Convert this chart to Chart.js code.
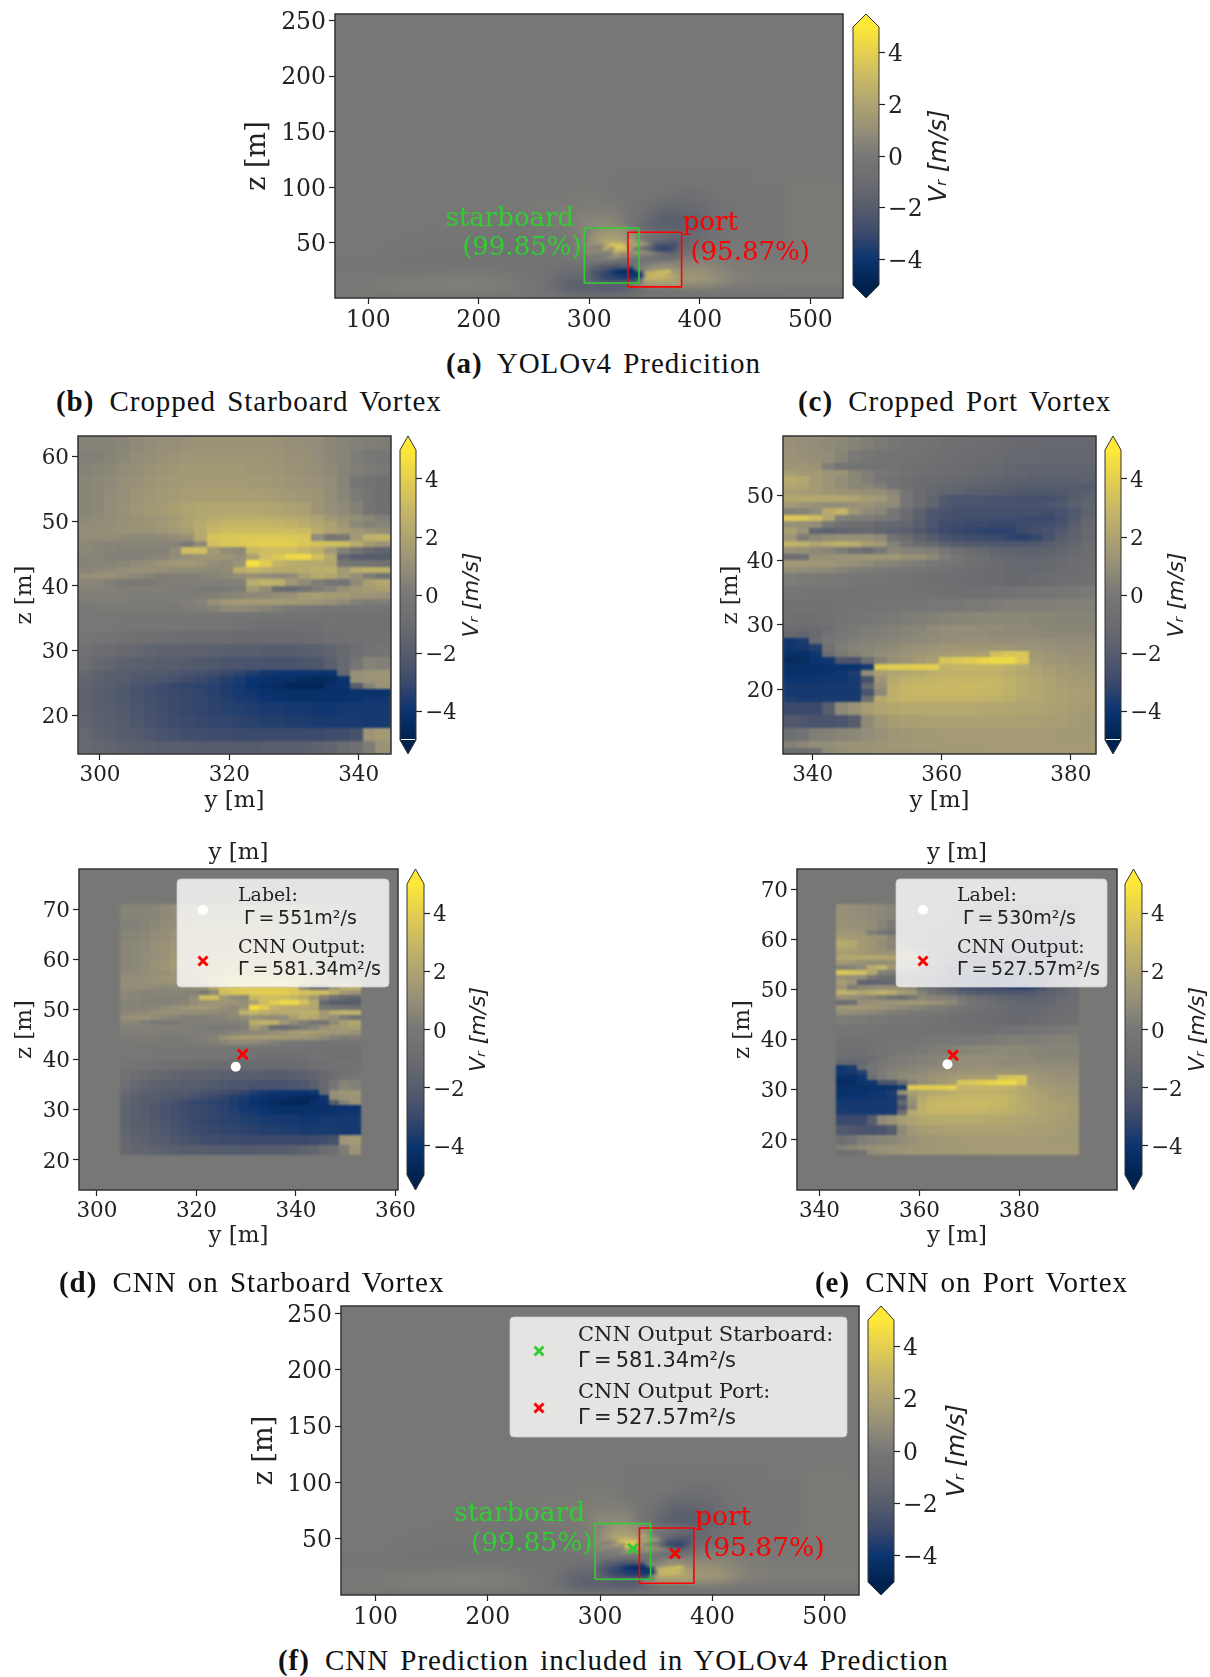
<!DOCTYPE html>
<html>
<head>
<meta charset="utf-8">
<title>Vortex detection figure</title>
<script src="https://cdn.jsdelivr.net/npm/chart.js@4"></script>
<style>
html, body { margin: 0; padding: 0; background: #fff; }
#figure { position: relative; width: 1210px; height: 1677px; overflow: hidden; }
#figure canvas { position: absolute; filter: blur(0.45px); }
.cap { position: absolute; font: 29px/32px "Liberation Serif", serif; letter-spacing: 0.95px; word-spacing: 3px; color: #111; white-space: nowrap; }
.cap b { margin-right: 4px; }
</style>
</head>
<body>
<div id="figure"></div>
<script>
// ---- values (V_r in m/s) ----

// cropped starboard vortex: column edges y, row edges z (top to bottom)
const starY = [296.6,298.6,300.6,302.6,304.6,306.6,308.6,310.6,312.6,314.6,316.6,318.6,320.6,322.6,324.6,326.6,328.6,330.6,332.6,334.6,336.6,338.6,340.6,342.6,345];
const starZ = [64.2,61,59,57,55,53,51,50,49,48,47,46,45,44,43,42,41,40,39,38,37,36,35,33,31,29,27,26,25,24,23,22,20,18,16,14];
const starRows = [
[.5,.5,.5,.6,.8,.9,1,1,1.1,1.2,1.2,1.2,1.2,1.2,1.2,1.1,1,1,.9,.7,.5,.4,.3,.2],
[.4,.4,.5,.7,.9,1,1.1,1.2,1.3,1.3,1.3,1.3,1.3,1.3,1.3,1.2,1.1,1.1,.9,.7,.5,.2,0,-.2],
[.5,.6,.7,.9,1,1.2,1.3,1.4,1.5,1.5,1.5,1.5,1.5,1.4,1.4,1.3,1.2,1.1,1,.8,.5,.3,.1,0],
[.6,.7,.8,1,1.1,1.3,1.4,1.5,1.6,1.6,1.6,1.6,1.6,1.5,1.5,1.4,1.3,1.2,1.1,.9,.5,-.1,-.4,-.6],
[.6,.7,.9,1,1.2,1.4,1.5,1.6,1.7,1.8,1.8,1.8,1.8,1.8,1.7,1.6,1.5,1.4,1.3,.9,.6,.1,-.3,-.7],
[.6,.7,.9,1.1,1.3,1.5,1.6,1.8,2,2.1,2.2,2.2,2.2,2.2,2.1,2,1.9,1.8,1.3,1,.8,.4,-.3,-.6],
[.7,.8,.9,1,1.1,1.3,1.4,1.6,1.9,2.1,2.4,2.5,2.5,2.5,2.5,2.4,2.3,2.2,2,1.4,1.1,.9,.7,.3],
[.9,.9,1,1.1,1.2,1.3,1.5,1.7,2,2.4,2.7,2.9,2.9,2.9,2.9,2.8,2.7,2.5,2.2,1.9,1.4,.7,.4,.6],
[.9,1,1,1.1,1.1,1.2,1.3,1.5,1.8,2.4,3,3.2,3.2,3.2,3.2,3.2,3.2,3.1,2.5,2,1.7,1.4,1.2,.9],
[.9,.9,.9,.8,.7,.7,.8,.9,1.1,2.3,3.5,3.6,3.7,3.7,3.7,3.7,3.7,3.6,.9,-.1,0,1.6,2.6,2.8],
[.7,.6,.5,.5,.5,.6,.5,.5,.1,.8,3.3,3.6,3.7,3.9,4,4,3.9,3.6,3.4,3.3,3.2,2.4,1.6,1.2],
[.7,.6,.5,.4,.4,.4,.4,.9,3.2,3.3,1.5,.9,.7,3,3.2,3.2,3.2,2.9,2.5,1.5,.4,-.5,-1.2,-1.5],
[.5,.5,.4,.4,.4,.5,.6,.9,1.1,1.2,1.3,1.3,1,1.9,3.2,3.8,4.4,4.4,3.4,2.3,-1.3,-2,-2,-2],
[.5,.5,.5,.6,.8,1,1.2,1.4,1.5,1.3,1,.8,1.2,4.7,3.9,2.8,2.4,2.3,2.3,2.1,-.1,-.3,-.5,-.6],
[.6,.7,.8,1,1.1,1.1,1,.9,.9,.8,.7,.8,2.6,2.8,2.5,2.3,2.3,2.4,2.5,2.6,1.5,2.4,2.7,2.6],
[1,1.1,1.1,.9,.7,.5,.3,.3,.3,.4,.5,.7,.9,1.1,.9,.8,.9,1.8,2.4,2.2,1.5,1,.2,-.4],
[.6,.6,.3,.1,.1,.1,.2,.3,.3,.3,.3,.3,.4,2.4,2.8,2.6,1.4,.8,.3,-.2,-.4,.8,1.8,2.2],
[.4,.4,.4,.3,.3,.3,.3,.2,.2,.1,.1,.1,.2,1.6,.9,-1,-1.1,-.5,.2,.5,1.1,1.4,1.6,1.8],
[.3,.3,.3,.3,.2,.2,.2,.2,.2,.2,.3,.5,.6,.7,.8,1,1.1,1.6,1.8,1.6,1.5,1.3,1.3,1.1],
[.2,.2,.2,.2,.1,.1,.1,.2,.3,.5,1.1,1.4,1.6,1.6,1.6,1.6,1.5,1.4,1.3,1.1,.8,.4,.2,.3],
[0,.1,.1,.1,.1,.1,.1,.1,.2,.3,.5,.8,.8,.7,.5,.3,.1,0,-.1,-.2,-.3,-.3,-.3,-.3],
[0,0,0,0,0,0,0,0,0,-.1,-.1,-.1,-.2,-.2,-.3,-.3,-.4,-.4,-.4,-.4,-.5,-.5,-.5,-.5],
[0,0,0,-.1,-.1,-.1,-.1,-.1,-.2,-.2,-.3,-.3,-.4,-.5,-.6,-.6,-.6,-.6,-.6,-.5,-.5,-.6,-.6,-.6],
[-.2,-.3,-.4,-.5,-.6,-.7,-.7,-.8,-.9,-1,-1,-1,-1.1,-1.1,-1.1,-1.1,-1.1,-1,-.9,-.7,-.6,-.5,-.5,-.5],
[-.5,-.8,-1,-1.2,-1.3,-1.5,-1.6,-1.6,-1.7,-1.7,-1.8,-1.9,-1.9,-1.9,-2,-2,-2,-1.9,-1.8,-1.5,-1.2,-.8,-.5,-.3],
[-.8,-1.2,-1.5,-1.7,-1.8,-1.9,-2,-2,-2.1,-2.2,-2.3,-2.4,-2.4,-2.5,-2.5,-2.5,-2.5,-2.4,-2.3,-1.9,-1.2,-.2,.5,.4],
[-1.3,-1.6,-1.9,-2,-2.1,-2.2,-2.2,-2.3,-2.5,-2.6,-2.8,-3,-3.2,-3.5,-3.8,-3.9,-4,-4,-4,-4,-1.3,1,1.2,1.3],
[-1.4,-1.7,-2,-2,-2.2,-2.3,-2.4,-2.6,-2.8,-3,-3.2,-3.5,-3.7,-4,-4.1,-4.2,-4.3,-4.5,-4.6,-4.5,-4.1,1,1.2,1.3],
[-1.5,-1.8,-2,-2.2,-2.4,-2.6,-2.9,-3.1,-3.2,-3.3,-3.4,-3.6,-3.8,-4.1,-4.3,-4.5,-4.7,-4.8,-4.8,-4.2,-4.1,-2,.4,1.2],
[-1.6,-1.9,-2.1,-2.3,-2.5,-2.7,-2.9,-3,-3.1,-3.2,-3.4,-3.6,-3.8,-3.9,-4.1,-4.2,-4.2,-4.2,-4.2,-4.2,-4.2,-4.1,-4.1,-4.1],
[-1.6,-1.9,-2.1,-2.3,-2.5,-2.7,-2.8,-3,-3.1,-3.2,-3.3,-3.5,-3.7,-3.8,-4,-4.1,-4.2,-4.2,-4.2,-4.2,-4.1,-4.1,-3.9,-3.9],
[-1.6,-1.9,-2,-2.2,-2.4,-2.6,-2.8,-3,-3.1,-3.2,-3.3,-3.4,-3.5,-3.6,-3.7,-3.7,-3.8,-3.8,-3.9,-3.9,-3.8,-3.8,-3.8,-3.8],
[-1.5,-1.8,-1.9,-2.1,-2.3,-2.5,-2.7,-2.9,-3,-3.1,-3.2,-3.2,-3.3,-3.4,-3.5,-3.5,-3.6,-3.6,-3.7,-3.7,-3.7,-3.7,-3.8,-3.8],
[-1.3,-1.6,-1.8,-2,-2.1,-2.3,-2.5,-2.6,-2.8,-2.8,-2.9,-2.9,-3,-3,-3,-3,-3,-3,-3,-2.9,-2.8,-2.6,1.3,1.6],
[-1.2,-1.4,-1.5,-1.7,-1.8,-1.9,-2,-2,-2,-2.1,-2.1,-2.1,-2.1,-2.1,-2,-2,-2,-1.9,-1.7,-1.5,-1,-.6,.2,1.2]
];

// cropped port vortex
const portY = [335.4,337.5,339.5,341.5,343.5,345.5,347.5,349.5,351.5,353.5,355.5,357.5,359.5,361.5,363.5,365.5,367.5,369.5,371.5,373.5,375.5,377.5,379.5,381.5,383.9];
const portZ = [60.2,57,55,54,53,52,51,50,49,48,47,46,45,44,43,42,41,40,39,38,36,34,32,30,29,28,27,26,25,24,23,22,21,20,19,18,16,14,12,11,10];
const portRows = [
[1.1,1,.9,.8,.7,.5,.3,.1,-.1,-.3,-.4,-.5,-.6,-.7,-.8,-.9,-1,-1.1,-1.2,-1.2,-1.3,-1.3,-1.3,-1.3],
[1.2,1.1,1,.9,.5,.1,-.1,-.3,-.4,-.5,-.5,-.6,-.7,-.8,-.9,-1,-1.1,-1.2,-1.3,-1.3,-1.4,-1.4,-1.4,-1.4],
[1.3,1.4,1.2,.3,-.3,-.5,-.5,-.5,-.5,-.6,-.7,-.8,-.9,-1,-1.1,-1.2,-1.3,-1.4,-1.5,-1.5,-1.5,-1.5,-1.5,-1.5],
[1.7,1.5,1.5,1.3,1.2,.6,.3,0,-.3,-.5,-.7,-.8,-.9,-1,-1.1,-1.2,-1.3,-1.4,-1.5,-1.6,-1.6,-1.6,-1.6,-1.6],
[2.4,2.2,1.6,1.3,.9,.7,.3,-.2,-.5,-.7,-.9,-1,-1.1,-1.2,-1.3,-1.4,-1.5,-1.6,-1.7,-1.8,-1.8,-1.8,-1.8,-1.7],
[2.2,2,1.6,1.3,1,.6,.6,.3,-.4,-.7,-1,-1.2,-1.3,-1.5,-1.6,-1.7,-1.8,-1.9,-2,-2,-2,-2,-2,-2.1],
[1.7,1.6,1.5,1.3,1.2,1.1,1,1,.6,-.2,-1,-1.3,-1.5,-1.6,-1.8,-1.9,-2,-2.1,-2.2,-2.2,-2.2,-2.2,-2.1,-1.9],
[2.1,2.2,2.2,2.2,2.1,2,1.6,1.4,.9,-.2,-1,-1.5,-2.2,-2.4,-2.4,-2.4,-2.5,-2.5,-2.6,-2.6,-2.6,-2.4,-2,-1.7],
[1.5,1.3,1.1,.9,.9,1.1,1.2,.9,.8,-.2,-1,-1.5,-2.2,-2.5,-2.5,-2.5,-2.5,-2.5,-2.5,-2.5,-2.4,-2.2,-1.8,-1.5],
[.4,.5,.9,2.4,2.8,1.4,.8,.6,-.1,-1,-1.7,-2.3,-2.5,-2.6,-2.6,-2.6,-2.6,-2.6,-2.6,-2.6,-2.7,-2.5,-2.2,-1.6],
[3.7,3.6,3.2,2.2,.4,.2,.2,0,-.2,-1,-1.8,-2.4,-2.6,-2.7,-2.7,-2.7,-2.8,-2.8,-2.9,-3,-3,-2.7,-2.2,-1.4],
[1.1,1,.9,-.1,-.6,-.8,-.9,-1.2,-1.3,-1.5,-2,-2.4,-2.8,-2.9,-3,-3,-3.1,-3.1,-2.9,-2.8,-2.7,-2.5,-1.9,-1.3],
[1.8,1.2,-1.5,-1.7,-1.5,-1.3,-1.2,-1.5,-1.7,-1.8,-2.2,-2.6,-2.9,-3.1,-3.2,-3.3,-3.4,-3.3,-2.9,-2.7,-2.5,-2.2,-1.7,-1.2],
[1.3,.2,.7,.9,1,1,1,.8,-.5,-1,-1.6,-2,-2.5,-2.7,-2.8,-2.9,-3,-3.2,-3.4,-3.1,-2.6,-2,-1.6,-1.2],
[2.7,2.5,2,2.3,2.6,2.4,1.7,1.4,.4,-.4,-1,-1.3,-1.8,-2.1,-2.2,-2.2,-2.3,-2.3,-2.3,-2.2,-2,-1.7,-1.4,-1],
[1.1,1,.8,.6,.2,-.5,-.8,0,.7,.5,.4,.3,-.1,-.6,-1,-1.3,-1.5,-1.6,-1.7,-1.7,-1.6,-1.4,-1.2,-.9],
[-.9,-.7,1,1.1,1.2,1.2,1.4,1.4,1.4,1.1,1,.7,.2,-.2,-.6,-.9,-1.2,-1.3,-1.5,-1.5,-1.4,-1.2,-1,-.8],
[1.4,1.4,1.4,1.3,1.2,1,.8,.6,.5,.3,.2,0,-.2,-.4,-.6,-.8,-1,-1.2,-1.3,-1.3,-1.2,-1.1,-.9,-.8],
[1,.9,.8,.7,.5,.3,.2,.1,0,-.1,-.2,-.4,-.5,-.7,-.8,-1,-1.1,-1.2,-1.3,-1.3,-1.2,-1,-.9,-.7],
[.2,.1,.1,0,0,-.1,-.2,-.2,-.3,-.4,-.5,-.6,-.7,-.8,-.9,-1,-1.1,-1.2,-1.2,-1.1,-1,-.8,-.7,-.6],
[-.2,-.2,-.3,-.3,-.3,-.4,-.4,-.4,-.4,-.5,-.5,-.5,-.6,-.6,-.6,-.6,-.5,-.5,-.4,-.3,-.2,-.1,0,.1],
[-.5,-.5,-.5,-.5,-.4,-.3,-.3,-.2,-.2,-.1,-.1,0,0,0,.1,.1,.2,.3,.3,.3,.3,.4,.4,.4],
[-.6,-.6,-.6,-.5,-.3,-.2,-.1,0,.1,.2,.3,.4,.5,.6,.6,.7,.7,.7,.7,.6,.6,.5,.5,.5],
[-.8,-1,-1,-.8,-.3,.1,.2,.3,.4,.5,.6,.8,.9,1,1,.9,.9,.8,.8,.7,.6,.6,.6,.6],
[-1.3,-1.5,-1.2,-.5,0,.1,.2,.3,.4,.5,.7,.8,.9,.9,.9,.9,.8,.8,.8,.8,.7,.7,.7,.7],
[-3.9,-3.6,-1,-.2,.1,.3,.4,.5,.6,.7,.8,.9,1,1,1.1,1.1,1,1,1,1,1,.9,.9,.9],
[-3.9,-3.8,-3.5,-.5,.2,.5,.6,.7,.8,1,1.1,1.2,1.3,1.3,1.3,1.3,1.3,1.3,1.2,1.2,1.1,1,1,1],
[-4.2,-4.3,-3.9,-.9,.1,.4,.7,.9,1,1.2,1.4,1.5,1.6,1.8,1.8,1.9,3.3,3.6,3.6,1.5,1.3,1.2,1.1,1.1],
[-4.5,-4.4,-4,-3.9,-2.4,-2.4,-.8,.5,1,1.2,1.5,1.8,3.5,3.7,3.9,4.2,4.4,4.4,3.7,1.6,1.4,1.3,1.2,1.2],
[-4.2,-4.2,-4.2,-4.1,-4.1,-4.1,-3.8,3.8,3.9,3.9,4,4,2.8,2.8,2.9,2.9,2.8,2.6,2.3,1.9,1.7,1.5,1.4,1.3],
[-4.2,-4.1,-4.1,-4,-3.9,-3.6,.9,1.8,2,2.2,2.3,2.5,2.6,2.6,2.7,2.7,2.6,2.4,2.2,2,1.8,1.6,1.5,1.4],
[-4,-4,-4,-3.9,-3.9,-3.7,-2.6,1.3,2.3,2.6,2.7,2.8,2.9,2.9,2.9,2.9,2.8,2.6,2.3,2.1,1.9,1.7,1.6,1.5],
[-3.8,-3.8,-3.8,-3.8,-3.8,-3.8,-1.4,1,2.5,2.9,3,3,3,3,3.1,3,2.9,2.6,2.4,2.2,2,1.8,1.7,1.6],
[-3.8,-3.8,-3.8,-3.8,-3.8,-3.8,-2.4,.8,2.6,2.9,3,3,3,3,3,2.9,2.8,2.6,2.4,2.2,2,1.9,1.8,1.7],
[-3.6,-3.7,-3.7,-3.7,-3.7,-3.7,-.8,2.4,2.6,2.8,2.8,2.8,2.8,2.8,2.8,2.7,2.6,2.5,2.3,2.2,2,1.9,1.8,1.7],
[-3,-3,-3,-2,.8,1.2,1.7,2,2.2,2.3,2.3,2.3,2.3,2.3,2.3,2.2,2.2,2.1,2,2,1.9,1.8,1.7,1.6],
[-2.2,-2.3,-2.5,-2.5,-2.4,-2,.8,1.4,1.7,1.8,1.8,1.9,1.9,1.9,1.9,1.9,1.9,1.9,1.8,1.8,1.7,1.7,1.6,1.5],
[-.8,-.4,.3,.4,.6,.7,.9,1.1,1.3,1.4,1.5,1.5,1.6,1.6,1.6,1.6,1.6,1.6,1.6,1.6,1.6,1.5,1.5,1.5],
[.4,.7,.9,1,1.1,1.2,1.2,1.3,1.4,1.4,1.5,1.5,1.5,1.6,1.6,1.6,1.6,1.6,1.6,1.6,1.6,1.6,1.6,1.6],
[-.8,-.8,-.5,.8,1,1.2,1.2,1.3,1.3,1.3,1.4,1.4,1.5,1.5,1.5,1.5,1.6,1.6,1.6,1.6,1.6,1.6,1.6,1.6]
];

// whole wake, coarse; the two crops above are painted over its middle
const wakeY = [69,110,130,150,170,190,200,210,220,230,240,250,260,270,280,290,300,310,320,330,340,350,360,370,380,390,400,410,420,430,450,480,532];
const wakeZ = [110,100,90,85,80,75,70,65,60,55,50,45,40,35,30,25,20,15,10,5,0];
const wakeRows = [
[0,0,0,0,0,0,0,0,0,0,0,0,0,0,0,0,0,0,-.1,-.1,-.1,-.1,-.1,-.2,-.2,-.2,-.2,-.1,-.1,-.1,0,.1],
[0,0,0,0,0,0,0,0,0,0,0,0,0,0,.1,.1,.1,0,-.1,-.1,-.2,-.2,-.4,-.5,-.6,-.6,-.5,-.3,-.2,-.2,-.1,.1],
[0,0,0,0,0,0,0,0,0,0,0,.1,.1,.1,.1,.1,.2,.1,-.1,-.2,-.3,-.5,-.8,-.9,-1,-.9,-.7,-.4,-.3,-.2,-.1,.1],
[0,0,0,0,0,0,0,0,0,0,.1,.1,.1,.2,.1,.2,.2,.2,.1,-.2,-.4,-.8,-1.2,-1.3,-1.2,-1.1,-.9,-.5,-.4,-.2,-.1,.1],
[0,0,0,0,0,0,0,-.1,-.1,0,.1,.1,.1,.2,.2,.3,.3,.3,.2,-.2,-.5,-1,-1.5,-1.6,-1.5,-1.3,-1,-.6,-.4,-.2,-.1,.1],
[0,0,0,0,0,0,-.1,-.1,-.1,0,0,.1,.1,.2,.2,.4,.5,.5,.4,-.1,-.6,-1.2,-1.8,-1.9,-1.8,-1.5,-1.1,-.6,-.4,-.2,-.1,.1],
[0,0,0,0,0,-.1,-.1,-.1,-.1,-.1,0,0,.1,.1,.2,.5,.7,.8,.6,-.1,-.8,-1.5,-1.9,-2,-1.9,-1.6,-1.2,-.7,-.5,-.2,-.1,.1],
[0,0,0,-.1,-.1,-.1,-.1,-.2,-.2,-.2,-.1,0,0,.1,.1,.5,.9,1,.7,0,-1,-1.7,-1.9,-2,-1.8,-1.5,-1.1,-.6,-.4,-.2,-.1,.1],
[0,0,-.1,-.1,-.1,-.2,-.2,-.3,-.3,-.3,-.2,-.1,0,0,.1,.3,0,0,0,0,0,0,0,0,-1.2,-1,-.7,-.5,-.3,-.2,-.1,.1],
[0,0,-.1,-.1,-.2,-.3,-.3,-.4,-.4,-.3,-.3,-.2,-.1,0,.1,.4,0,0,0,0,0,0,0,0,-1.5,-1.1,-.7,-.4,-.2,-.1,0,.1],
[0,-.1,-.1,-.2,-.3,-.3,-.4,-.4,-.4,-.4,-.4,-.3,-.2,-.1,.1,.4,0,0,0,0,0,0,0,0,-1.3,-.9,-.5,-.3,-.1,0,0,.1],
[0,-.1,-.2,-.3,-.3,-.4,-.4,-.5,-.5,-.5,-.5,-.4,-.3,-.2,0,.3,0,0,0,0,0,0,0,0,-.8,-.5,-.3,-.1,0,0,0,.1],
[-.1,-.2,-.3,-.4,-.4,-.5,-.5,-.5,-.5,-.5,-.5,-.4,-.3,-.2,-.1,.1,0,0,0,0,0,0,0,0,0,.2,.2,.2,.1,.1,0,.1],
[-.2,-.3,-.4,-.4,-.4,-.4,-.4,-.4,-.4,-.4,-.4,-.4,-.4,-.4,-.3,-.1,0,0,0,0,0,0,0,0,.5,.6,.5,.4,.3,.2,.1,.1],
[-.2,-.3,-.3,-.3,-.2,-.2,-.2,-.3,-.3,-.3,-.4,-.4,-.5,-.6,-.7,-.7,0,0,0,0,0,0,0,0,.9,.9,.8,.6,.4,.2,.1,.1],
[-.1,-.1,-.1,-.1,.1,.1,.1,0,-.1,-.2,-.3,-.4,-.6,-.9,-1.1,-1.3,0,0,0,0,0,0,0,0,1.2,1.2,1.1,.8,.5,.3,.2,.2],
[0,.1,.1,.2,.2,.2,.2,.1,.1,0,-.2,-.4,-.7,-1.1,-1.4,-1.4,0,0,0,0,0,0,0,0,1.4,1.4,1.3,1,.7,.4,.2,.2],
[.1,.2,.2,.3,.3,.3,.2,.2,.1,0,-.3,-.5,-1,-1.6,-1.9,-1.9,-2,-2.2,-2.4,-2.4,-1.5,0,0,0,1.3,1.2,1,.8,.5,.3,.2,.2],
[.1,.2,.3,.3,.3,.3,.3,.2,.2,.1,-.1,-.2,-.6,-1.3,-1.8,-2,-2,-2.1,-2.1,-1.6,-.8,-.2,-.2,-.3,-.4,-.4,-.4,-.4,-.4,-.4,-.4,-.3],
[-.3,-.3,-.3,-.3,-.3,-.3,-.3,-.3,-.3,-.3,-.4,-.4,-.4,-.5,-.5,-.5,-.5,-.5,-.5,-.5,-.5,-.5,-.5,-.5,-.5,-.5,-.5,-.5,-.5,-.5,-.5,-.4]
];

// detection boxes and markers
const starBoxY = [295.5,345,345,295.5,295.5];
const starBoxZ = [14,14,63.5,63.5,14];
const portBoxY = [335,383.5,383.5,335,335];
const portBoxZ = [10.5,10.5,59.6,59.6,10.5];
const starLabel = [327.9,38.6];
const starOutput = [329.3,41.1];
const portLabel = [365.6,35.1];
const portOutput = [366.7,36.9];

// axis ticks
const wideYTicks = [100,200,300,400,500];
const wideZTicks = [50,100,150,200,250];
const cbarTicks = [-4,-2,0,2,4];

// colour map stops from -5 to 5
const cmapStops = [[0,34,78],[11,52,112],[59,73,108],[87,93,109],[107,108,112],[119,119,118],[149,143,120],[174,163,113],[200,184,102],[228,207,80],[254,232,56]];

function cmap(v) {
    const t = Math.min(0.9999, Math.max(0, (v + 5) / 10)) * 10;
    const i = Math.floor(t), f = t - i;
    const a = cmapStops[i], b = cmapStops[i + 1];
    return 'rgb(' + a.map((c, k) => Math.round(c + (b[k] - c) * f)).join(',') + ')';
}

const figure = document.getElementById('figure');
const SERIF = '"DejaVu Serif"';
const SANS = '"DejaVu Sans"';

function addCanvas(l, t, r, b) {
    const c = document.createElement('canvas');
    c.width = r - l;
    c.height = b - t;
    c.style.left = l + 'px';
    c.style.top = t + 'px';
    figure.appendChild(c);
    return c;
}

// paints a grid of values through the chart's scales
function paintLayer(chart, layer) {
    const xs = chart.scales.x, ys = chart.scales.y;
    const off = document.createElement('canvas');
    off.width = chart.width;
    off.height = chart.height;
    const c = off.getContext('2d');
    const dx = layer.dx || 0, dz = layer.dz || 0;
    layer.rows.forEach((row, j) => {
        const y0 = Math.round(ys.getPixelForValue(layer.z[j] + dz));
        const y1 = Math.round(ys.getPixelForValue(layer.z[j + 1] + dz));
        row.forEach((v, i) => {
            const x0 = Math.round(xs.getPixelForValue(layer.y[i] + dx));
            const x1 = Math.round(xs.getPixelForValue(layer.y[i + 1] + dx));
            c.fillStyle = cmap(v);
            c.fillRect(x0, y0, x1 - x0, y1 - y0);
        });
    });
    const ctx = chart.ctx, a = chart.chartArea;
    ctx.save();
    ctx.beginPath();
    ctx.rect(a.left, a.top, a.right - a.left, a.bottom - a.top);
    ctx.clip();
    if (layer.blur) ctx.filter = 'blur(' + layer.blur + 'px)';
    ctx.drawImage(off, 0, 0);
    ctx.restore();
}

function fixBox(s, size, key) {
    s[key] = size;
    s.paddingLeft = s.paddingRight = s.paddingTop = s.paddingBottom = 0;
}

function makePanel(p) {
    const tickPx = p.tickPx, titlePx = p.titlePx;
    const left = Math.round(p.zTitleX - titlePx * 0.6);
    const bottom = p.yTitleY ? Math.round(p.yTitleY + titlePx * 0.6) : p.plot[3] + 34;
    const top = p.topTitleY ? Math.round(p.topTitleY - titlePx * 0.6) : p.plot[1] - 12;
    const right = p.plot[2] + 32;
    const canvas = addCanvas(left, top, right, bottom);

    const overlay = {
        id: 'overlay',
        beforeDatasetsDraw(chart) {
            const a = chart.chartArea, ctx = chart.ctx;
            ctx.fillStyle = cmap(0);
            ctx.fillRect(a.left, a.top, a.right - a.left, a.bottom - a.top);
            p.layers.forEach(l => paintLayer(chart, l));
        },
        afterDatasetsDraw(chart) {
            const a = chart.chartArea, ctx = chart.ctx;
            ctx.save();
            ctx.strokeStyle = '#333';
            ctx.lineWidth = 1.5;
            ctx.strokeRect(a.left, a.top, a.right - a.left, a.bottom - a.top);
            (p.notes || []).forEach(n => {
                ctx.font = p.notePx + 'px ' + SERIF;
                ctx.fillStyle = n.color;
                ctx.textBaseline = 'middle';
                ctx.textAlign = 'left';
                ctx.fillText(n.text, chart.scales.x.getPixelForValue(n.y), chart.scales.y.getPixelForValue(n.z));
            });
            if (p.legend) drawLegend(ctx, p.legend, left, top);
            ctx.restore();
        }
    };

    const scales = {
        x: {
            type: 'linear', min: p.yRange[0], max: p.yRange[1],
            afterBuildTicks: s => { s.ticks = p.yTicks.map(v => ({ value: v })); },
            afterFit: s => fixBox(s, bottom - p.plot[3], 'height'),
            grid: { drawOnChartArea: false, color: '#222', tickLength: 6, tickWidth: 1.2 },
            border: { display: false },
            ticks: { autoSkip: false, maxRotation: 0, color: '#222', padding: 3, font: { family: SERIF, size: tickPx } },
            title: { display: !!p.yTitleY, text: 'y [m]', color: '#222', padding: 0, font: { family: SERIF, size: titlePx } }
        },
        y: {
            type: 'linear', min: p.zRange[0], max: p.zRange[1],
            afterBuildTicks: s => { s.ticks = p.zTicks.map(v => ({ value: v })); },
            afterFit: s => fixBox(s, p.plot[0] - left, 'width'),
            grid: { drawOnChartArea: false, color: '#222', tickLength: 6, tickWidth: 1.2 },
            border: { display: false },
            ticks: { autoSkip: false, color: '#222', padding: 3, labelOffset: 2, font: { family: SERIF, size: tickPx } },
            title: { display: true, text: 'z [m]', color: '#222', padding: 0, font: { family: SERIF, size: titlePx } }
        }
    };
    if (p.topTitleY) {
        scales.xTop = {
            type: 'linear', position: 'top', min: p.yRange[0], max: p.yRange[1],
            afterFit: s => fixBox(s, p.plot[1] - top, 'height'),
            grid: { display: false }, border: { display: false }, ticks: { display: false },
            title: { display: true, text: 'y [m]', color: '#222', padding: 0, font: { family: SERIF, size: titlePx } }
        };
    }

    new Chart(canvas, {
        type: 'scatter',
        data: { datasets: p.datasets },
        options: {
            responsive: false, animation: false, devicePixelRatio: 1,
            layout: { padding: { top: p.topTitleY ? 0 : p.plot[1] - top, right: right - p.plot[2], left: 0, bottom: 0 } },
            plugins: { legend: { display: false }, tooltip: { enabled: false } },
            scales
        },
        plugins: [overlay]
    });

    makeColorbar(p);
}

function drawLegend(ctx, g, ox, oy) {
    const [l, t, r, b] = g.box;
    ctx.beginPath();
    ctx.roundRect(l - ox, t - oy, r - l, b - t, 4);
    ctx.fillStyle = 'rgba(255,255,255,0.8)';
    ctx.fill();
    ctx.strokeStyle = 'rgba(204,204,204,0.8)';
    ctx.lineWidth = 1;
    ctx.stroke();
    g.marks.forEach(m => {
        const x = m.x - ox, y = m.y - oy;
        if (m.kind === 'dot') {
            ctx.beginPath();
            ctx.arc(x, y, 5, 0, Math.PI * 2);
            ctx.fillStyle = m.color;
            ctx.fill();
        } else {
            ctx.beginPath();
            ctx.moveTo(x - 4.5, y - 4.5); ctx.lineTo(x + 4.5, y + 4.5);
            ctx.moveTo(x + 4.5, y - 4.5); ctx.lineTo(x - 4.5, y + 4.5);
            ctx.strokeStyle = m.color;
            ctx.lineWidth = 3;
            ctx.stroke();
        }
    });
    ctx.textAlign = 'left';
    ctx.textBaseline = 'middle';
    ctx.fillStyle = '#222';
    g.lines.forEach(n => {
        ctx.font = n.font;
        ctx.fillText(n.text, n.x - ox, n.y - oy);
    });
}

function makeColorbar(p) {
    const c = p.cbar;
    const titlePx = c.titlePx;
    const left = c.x[0] - 2, right = Math.round(c.titleX + titlePx);
    const top = c.tip[0] - 2, bottom = c.tip[1] + 14;
    const canvas = addCanvas(left, top, right, bottom);
    const bar = {
        id: 'bar',
        beforeDatasetsDraw(chart) {
            const a = chart.chartArea, ctx = chart.ctx, ys = chart.scales.y;
            const yHi = ys.getPixelForValue(5), yLo = ys.getPixelForValue(-5);
            const tipTop = c.tip[0] - top, tipBot = c.tip[1] - top;
            const mid = (a.left + a.right) / 2;
            const grad = ctx.createLinearGradient(0, yHi, 0, yLo);
            cmapStops.forEach((s, i) => grad.addColorStop(1 - i / 10, 'rgb(' + s.join(',') + ')'));
            ctx.save();
            ctx.fillStyle = grad;
            ctx.fillRect(a.left, yHi, a.right - a.left, yLo - yHi);
            ctx.fillStyle = 'rgb(254,232,56)';
            ctx.beginPath(); ctx.moveTo(a.left, yHi); ctx.lineTo(mid, tipTop); ctx.lineTo(a.right, yHi); ctx.closePath(); ctx.fill();
            ctx.fillStyle = 'rgb(0,34,78)';
            ctx.beginPath(); ctx.moveTo(a.left, yLo); ctx.lineTo(mid, tipBot); ctx.lineTo(a.right, yLo); ctx.closePath(); ctx.fill();
            if (c.whiteEdge) {
                ctx.strokeStyle = '#fff';
                ctx.lineWidth = 1;
                ctx.beginPath(); ctx.moveTo(a.left + 1, yLo - 0.5); ctx.lineTo(a.right - 1, yLo - 0.5); ctx.stroke();
            }
            ctx.strokeStyle = '#333';
            ctx.lineWidth = 1;
            ctx.beginPath();
            ctx.moveTo(a.left, yHi); ctx.lineTo(mid, tipTop); ctx.lineTo(a.right, yHi);
            ctx.lineTo(a.right, yLo); ctx.lineTo(mid, tipBot); ctx.lineTo(a.left, yLo);
            ctx.closePath();
            ctx.stroke();
            ctx.translate(c.titleX - left, (c.tip[0] + c.tip[1]) / 2 - top);
            ctx.rotate(-Math.PI / 2);
            ctx.font = 'italic ' + titlePx + 'px ' + SANS;
            ctx.fillStyle = '#222';
            ctx.textAlign = 'center';
            ctx.textBaseline = 'middle';
            ctx.fillText('V\u1D63 [m/s]', 0, 0);
            ctx.restore();
        }
    };
    new Chart(canvas, {
        type: 'scatter',
        data: { datasets: [] },
        options: {
            responsive: false, animation: false, devicePixelRatio: 1,
            layout: { padding: { top: c.y[0] - top, bottom: bottom - c.y[1], left: c.x[0] - left, right: 0 } },
            plugins: { legend: { display: false }, tooltip: { enabled: false } },
            scales: {
                x: { display: false, type: 'linear', min: 0, max: 1 },
                y: {
                    type: 'linear', position: 'right', min: -5, max: 5,
                    afterBuildTicks: s => { s.ticks = cbarTicks.map(v => ({ value: v })); },
                    afterFit: s => fixBox(s, right - c.x[1], 'width'),
                    grid: { drawOnChartArea: false, color: '#222', tickLength: 6, tickWidth: 1.2 },
                    border: { display: false },
                    ticks: {
                        autoSkip: false, color: '#222', padding: 3, labelOffset: 2.5,
                        font: { family: SERIF, size: c.tickPx },
                        callback: v => String(v).replace('-', '\u2212')
                    }
                }
            }
        },
        plugins: [bar]
    });
}

function boxSet(xs, zs, color) {
    return { data: xs.map((x, i) => ({ x: x, y: zs[i] })), showLine: true, fill: false, borderColor: color, borderWidth: 1.6, pointRadius: 0 };
}
function markSet(pt, style, color, r) {
    return { data: [{ x: pt[0], y: pt[1] }], pointStyle: style, pointRadius: r, borderWidth: style === 'circle' ? 0 : 3, borderColor: color, backgroundColor: color, showLine: false };
}

const GREEN = '#32cd32', RED = '#ff0000';
const wakeLayers = [
    { y: wakeY, z: wakeZ, rows: wakeRows, blur: 4 },
    { y: starY, z: starZ, rows: starRows, blur: 1.6 },
    { y: portY, z: portZ, rows: portRows, blur: 1.6 }
];
const wakeNotes = [
    { text: 'starboard', y: 170, z: 71.5, color: GREEN },
    { text: '(99.85%)', y: 185, z: 45, color: GREEN },
    { text: 'port', y: 384.5, z: 68, color: RED },
    { text: '(95.87%)', y: 391.5, z: 41, color: RED }
];

// (a)
makePanel({
    plot: [335, 14, 843, 298], yRange: [70, 529.5], zRange: [0.5, 256], yTicks: wideYTicks, zTicks: wideZTicks,
    tickPx: 23.5, titlePx: 27, notePx: 26, zTitleX: 258,
    layers: wakeLayers, notes: wakeNotes,
    datasets: [boxSet(starBoxY, starBoxZ, GREEN), boxSet(portBoxY, portBoxZ, RED)],
    cbar: { x: [853, 879], y: [27, 285], tip: [14, 298], titleX: 940, tickPx: 23.5, titlePx: 24 }
});

// (b)
makePanel({
    plot: [78, 436, 391, 754], yRange: [296.6, 345], zRange: [14, 63.2], yTicks: [300, 320, 340], zTicks: [20, 30, 40, 50, 60],
    tickPx: 21.5, titlePx: 23, zTitleX: 25, yTitleY: 801,
    layers: [{ y: starY, z: starZ, rows: starRows, blur: 1.3 }],
    datasets: [],
    cbar: { x: [400, 416], y: [450, 740], tip: [436, 754], titleX: 472, tickPx: 21.5, titlePx: 22, whiteEdge: true }
});

// (c)
makePanel({
    plot: [783, 436, 1096, 754], yRange: [335.4, 383.9], zRange: [10, 59.2], yTicks: [340, 360, 380], zTicks: [20, 30, 40, 50],
    tickPx: 21.5, titlePx: 23, zTitleX: 731, yTitleY: 801,
    layers: [{ y: portY, z: portZ, rows: portRows, blur: 1.3 }],
    datasets: [],
    cbar: { x: [1105, 1121], y: [450, 740], tip: [436, 754], titleX: 1177, tickPx: 21.5, titlePx: 22, whiteEdge: true }
});

// (d)
makePanel({
    plot: [79, 869, 398, 1190], yRange: [296.4, 360.5], zRange: [14, 78.1], yTicks: [300, 320, 340, 360], zTicks: [20, 30, 40, 50, 60, 70],
    tickPx: 21.5, titlePx: 23, zTitleX: 25, yTitleY: 1236, topTitleY: 853,
    layers: [{ y: starY, z: starZ, rows: starRows, dx: 8, dz: 7, blur: 1 }],
    datasets: [markSet(starLabel, 'circle', '#ffffff', 5), markSet(starOutput, 'crossRot', RED, 7)],
    legend: {
        box: [177, 879, 389, 987],
        marks: [{ kind: 'dot', x: 203, y: 910, color: '#ffffff' }, { kind: 'x', x: 203, y: 961, color: RED }],
        lines: [
            { text: 'Label:', x: 238, y: 896, font: '19px ' + SERIF },
            { text: '\u0393\u2009=\u2009551m\u00B2/s', x: 244, y: 919, font: '19px ' + SANS },
            { text: 'CNN Output:', x: 238, y: 948, font: '19px ' + SERIF },
            { text: '\u0393\u2009=\u2009581.34m\u00B2/s', x: 238, y: 970, font: '19px ' + SANS }
        ]
    },
    cbar: { x: [407, 424], y: [884, 1175], tip: [869, 1190], titleX: 479, tickPx: 21.5, titlePx: 22 }
});

// (e)
makePanel({
    plot: [797, 869, 1117, 1190], yRange: [335.5, 399.5], zRange: [10, 74.1], yTicks: [340, 360, 380], zTicks: [20, 30, 40, 50, 60, 70],
    tickPx: 21.5, titlePx: 23, zTitleX: 743, yTitleY: 1236, topTitleY: 853,
    layers: [{ y: portY, z: portZ, rows: portRows, dx: 8, dz: 7, blur: 1 }],
    datasets: [markSet(portLabel, 'circle', '#ffffff', 5), markSet(portOutput, 'crossRot', RED, 7)],
    legend: {
        box: [896, 879, 1107, 987],
        marks: [{ kind: 'dot', x: 923, y: 910, color: '#ffffff' }, { kind: 'x', x: 923, y: 961, color: RED }],
        lines: [
            { text: 'Label:', x: 957, y: 896, font: '19px ' + SERIF },
            { text: '\u0393\u2009=\u2009530m\u00B2/s', x: 963, y: 919, font: '19px ' + SANS },
            { text: 'CNN Output:', x: 957, y: 948, font: '19px ' + SERIF },
            { text: '\u0393\u2009=\u2009527.57m\u00B2/s', x: 957, y: 970, font: '19px ' + SANS }
        ]
    },
    cbar: { x: [1125, 1142], y: [884, 1175], tip: [869, 1190], titleX: 1198, tickPx: 21.5, titlePx: 22 }
});

// (f)
makePanel({
    plot: [341, 1306, 859, 1595], yRange: [69.3, 530.5], zRange: [0, 256.8], yTicks: wideYTicks, zTicks: wideZTicks,
    tickPx: 23.5, titlePx: 27, notePx: 26.5, zTitleX: 265,
    layers: wakeLayers, notes: wakeNotes,
    datasets: [
        boxSet(starBoxY, starBoxZ, GREEN), boxSet(portBoxY, portBoxZ, RED),
        markSet(starOutput, 'crossRot', GREEN, 7), markSet(portOutput, 'crossRot', RED, 7)
    ],
    legend: {
        box: [510, 1317, 847, 1437],
        marks: [{ kind: 'x', x: 539, y: 1351, color: GREEN }, { kind: 'x', x: 539, y: 1408, color: RED }],
        lines: [
            { text: 'CNN Output Starboard:', x: 578, y: 1336, font: '21px ' + SERIF },
            { text: '\u0393\u2009=\u2009581.34m\u00B2/s', x: 578, y: 1362, font: '21px ' + SANS },
            { text: 'CNN Output Port:', x: 578, y: 1393, font: '21px ' + SERIF },
            { text: '\u0393\u2009=\u2009527.57m\u00B2/s', x: 578, y: 1419, font: '21px ' + SANS }
        ]
    },
    cbar: { x: [868, 894], y: [1320, 1582], tip: [1306, 1595], titleX: 958, tickPx: 23.5, titlePx: 24 }
});

// sub-captions
const captions = [
    ['(a)', 'YOLOv4 Predicition', 446, 363],
    ['(b)', 'Cropped Starboard Vortex', 56, 401],
    ['(c)', 'Cropped Port Vortex', 798, 401],
    ['(d)', 'CNN on Starboard Vortex', 59, 1282],
    ['(e)', 'CNN on Port Vortex', 815, 1282],
    ['(f)', 'CNN Prediction included in YOLOv4 Prediction', 278, 1660]
];
captions.forEach(c => {
    const d = document.createElement('div');
    d.className = 'cap';
    d.style.left = c[2] + 'px';
    d.style.top = (c[3] - 16) + 'px';
    d.innerHTML = '<b>' + c[0] + '</b> ' + c[1];
    figure.appendChild(d);
});
</script>
</body>
</html>
